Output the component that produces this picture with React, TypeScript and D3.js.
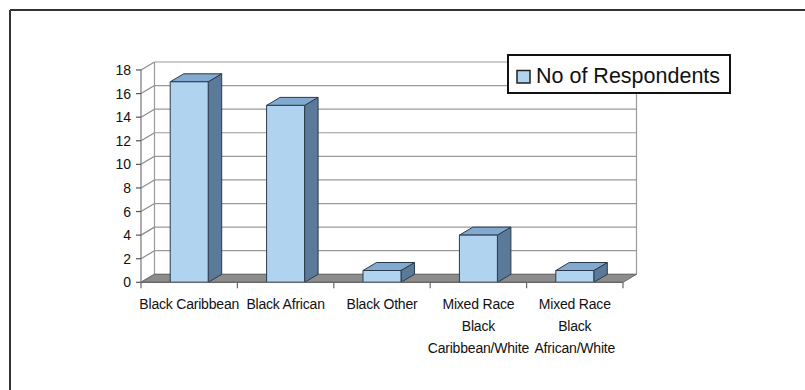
import React from "react";
import * as d3 from "d3";

const categories: string[][] = [
  ["Black Caribbean"],
  ["Black African"],
  ["Black Other"],
  ["Mixed Race", "Black", "Caribbean/White"],
  ["Mixed Race", "Black", "African/White"],
];
const respondents: number[] = [17, 15, 1, 4, 1];
const yTicks: number[] = [0, 2, 4, 6, 8, 10, 12, 14, 16, 18];
const seriesName = "No of Respondents";

const W = 805;
const H = 390;
const x0 = 141;
const x1 = 623;
const yBottom = 282.3;
const yTop = 70;
const DX = 13.5;
const DY = -8;

const FRONT = "#b0d4f0";
const TOP = "#82a9d0";
const SIDE = "#5b7998";
const EDGE = "#2a3a4a";

export default function App() {
  const y = d3.scaleLinear().domain([0, 18]).range([yBottom, yTop]);
  const x = d3
    .scaleBand<number>()
    .domain(d3.range(categories.length))
    .range([x0, x1])
    .paddingInner(0.606)
    .paddingOuter(0.303);
  const step = x.step();
  const bw = x.bandwidth();
  const font = "'Liberation Sans', Arial, Helvetica, sans-serif";
  const pts = (p: number[][]) => p.map((q) => q.join(",")).join(" ");

  return (
    <svg width={W} height={H} style={{ display: "block", position: "absolute", left: 0, top: 0 }}>
      <rect x={0} y={0} width={W} height={H} fill="#fff" />
      {/* outer frame */}
      <line x1={10} y1={10} x2={W} y2={10} stroke="#333" strokeWidth={2} />
      <line x1={10} y1={10} x2={10} y2={H} stroke="#333" strokeWidth={2} />

      {/* back wall gridlines */}
      {yTicks.map((t) => (
        <g key={"g" + t}>
          <line x1={x0 + DX} x2={x1 + DX} y1={y(t) + DY} y2={y(t) + DY} stroke="#9a9a9a" strokeWidth={1.2} />
          <line x1={x0} x2={x0 + DX} y1={y(t)} y2={y(t) + DY} stroke="#8a8a8a" strokeWidth={1.2} />
        </g>
      ))}
      {/* back wall edges */}
      <line x1={x0 + DX} x2={x0 + DX} y1={y(18) + DY} y2={y(0) + DY} stroke="#9a9a9a" strokeWidth={1.2} />
      <line x1={x1 + DX} x2={x1 + DX} y1={y(18) + DY} y2={y(0) + DY} stroke="#9a9a9a" strokeWidth={1.2} />

      {/* floor */}
      <polygon
        points={pts([
          [x0, y(0)],
          [x1, y(0)],
          [x1 + DX, y(0) + DY],
          [x0 + DX, y(0) + DY],
        ])}
        fill="#8c8c8c"
        stroke="#6a6a6a"
        strokeWidth={1}
      />

      {/* bars */}
      {respondents.map((v, i) => {
        const bx = x(i) as number;
        const yv = y(v);
        const y0 = y(0);
        return (
          <g key={"b" + i} stroke={EDGE} strokeWidth={1} strokeLinejoin="round">
            <polygon
              points={pts([
                [bx + bw, yv],
                [bx + bw + DX, yv + DY],
                [bx + bw + DX, y0 + DY],
                [bx + bw, y0],
              ])}
              fill={SIDE}
            />
            <polygon
              points={pts([
                [bx, yv],
                [bx + DX, yv + DY],
                [bx + bw + DX, yv + DY],
                [bx + bw, yv],
              ])}
              fill={TOP}
            />
            <rect x={bx} y={yv} width={bw} height={y0 - yv} fill={FRONT} />
          </g>
        );
      })}

      {/* y axis */}
      <line x1={x0} x2={x0} y1={y(0)} y2={y(18)} stroke="#777" strokeWidth={1.2} />
      {yTicks.map((t) => (
        <g key={"t" + t}>
          <line x1={x0 - 5} x2={x0} y1={y(t)} y2={y(t)} stroke="#555" strokeWidth={1.2} />
          <text
            x={x0 - 10}
            y={y(t) + 5}
            textAnchor="end"
            fontFamily={font}
            fontSize={14}
            fill="#111"
          >
            {t}
          </text>
        </g>
      ))}

      {/* x axis */}
      <line x1={x0} x2={x1} y1={y(0)} y2={y(0)} stroke="#666" strokeWidth={1.2} />
      {d3.range(categories.length + 1).map((i) => (
        <line
          key={"xt" + i}
          x1={x0 + i * step}
          x2={x0 + i * step}
          y1={y(0)}
          y2={y(0) + 6}
          stroke="#666"
          strokeWidth={1.2}
        />
      ))}
      {categories.map((lines, i) => (
        <text
          key={"xl" + i}
          textAnchor="middle"
          fontFamily={font}
          fontSize={14}
          letterSpacing={-0.2}
          fill="#111"
        >
          {lines.map((l, j) => (
            <tspan key={j} x={(x(i) as number) + bw / 2} y={308.5 + j * 22}>
              {l}
            </tspan>
          ))}
        </text>
      ))}

      {/* legend */}
      <rect x={508} y={55} width={222} height={38} fill="#fff" stroke="#111" strokeWidth={2} />
      <rect x={517} y={70.5} width={13} height={12.5} fill={FRONT} stroke="#222" strokeWidth={1.5} />
      <text x={536} y={83} fontFamily={font} fontSize={21.5} fill="#111">
        {seriesName}
      </text>
    </svg>
  );
}
